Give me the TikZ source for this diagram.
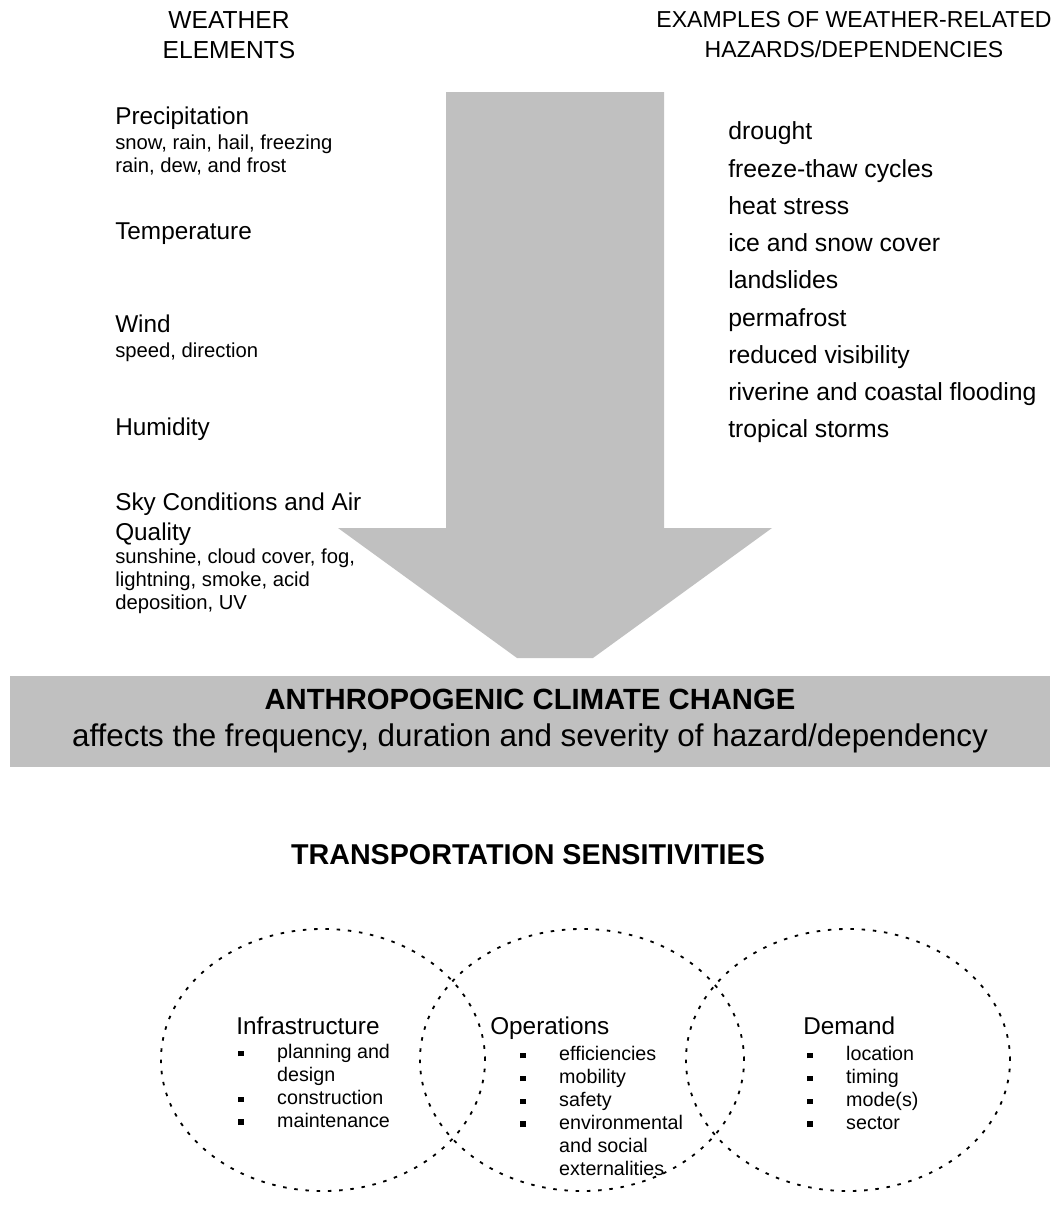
\documentclass[tikz,border=0pt]{standalone}
\usepackage{fontspec}
\setmainfont{Liberation Sans}
\usetikzlibrary{positioning}
\definecolor{WXgray}{HTML}{C0C0C0}
\definecolor{WXink}{HTML}{000000}
\newcommand{\wxbig}{\fontsize{17.3}{21}\selectfont}
\newcommand{\wxsmall}{\fontsize{14.4}{16.3}\selectfont}
\newcommand{\vbul}{\makebox[27.7pt][l]{\rule[1.6pt]{4pt}{4pt}}}
\newcommand{\vind}{\hspace*{27.7pt}}
\tikzset{
  wxhead/.style={align=center, inner sep=0pt, text=WXink,
    font=\fontsize{17.5}{21.3}\selectfont},
  wxgroup/.style={align=left, inner sep=0pt, anchor=north west, font=\wxsmall},
  hzitem/.style={inner sep=0pt, anchor=west, text height=12pt, text depth=3.5pt,
    font=\fontsize{17.6}{21}\selectfont},
  bigarrow/.style={fill=WXgray, draw=none},
  ccband/.style={rectangle, fill=WXgray, draw=none, align=center, inner sep=0pt,
    font=\fontsize{22.3}{26.3}\selectfont},
  tstitle/.style={inner sep=0pt, font=\bfseries\fontsize{20.4}{24}\selectfont},
  venn/.style={draw=WXink, line width=1.3pt, dash pattern=on 2.5pt off 5.5pt},
  vtitle/.style={inner sep=0pt, anchor=west, text height=12.5pt, text depth=3.6pt,
    font=\wxbig},
  vlist/.style={align=left, inner sep=0pt, anchor=north west,
    font=\fontsize{14}{16.3}\selectfont},
}

\begin{document}
\begin{tikzpicture}[x=0.025cm, y=-0.025cm]
  \useasboundingbox (0,0) rectangle (1062,1212);
  %% Big grey arrow
  \fill[bigarrow] (446,92) -- (664,92) -- (664,528) -- (772,528) -- (593,658)
        -- (517,658) -- (338,528) -- (446,528) -- cycle;
  %% Column headers
  \node[wxhead] (wxh) at (229,35) {WEATHER\\ELEMENTS};
  \node[wxhead, font=\fontsize{16.4}{21.3}\selectfont] (hzh) at (854,35)
        {EXAMPLES OF WEATHER-RELATED\\HAZARDS/DEPENDENCIES};
  %% Weather elements
  \node[wxgroup] (prec) at (115,107) {\wxbig Precipitation\\[1pt]
        snow, rain, hail, freezing\\ rain, dew, and frost};
  \node[wxgroup] (temp) at (115,222) {\wxbig Temperature};
  \node[wxgroup] (wind) at (115,315) {\wxbig Wind\\[1pt] speed, direction};
  \node[wxgroup] (humi) at (115,418) {\wxbig Humidity};
  \node[wxgroup] (sky) at (115,493) {\wxbig Sky Conditions and Air\\[5pt]
        \wxbig Quality\\ sunshine, cloud cover, fog,\\ lightning, smoke, acid\\
        deposition, UV};
  %% Hazards / dependencies
  \node[hzitem] (h1) at (728,134) {drought};
  \node[hzitem, below=0.93cm of h1.west, anchor=west] (h2) {freeze-thaw cycles};
  \node[hzitem, below=0.93cm of h2.west, anchor=west] (h3) {heat stress};
  \node[hzitem, below=0.93cm of h3.west, anchor=west] (h4) {ice and snow cover};
  \node[hzitem, below=0.93cm of h4.west, anchor=west] (h5) {landslides};
  \node[hzitem, below=0.93cm of h5.west, anchor=west] (h6) {permafrost};
  \node[hzitem, below=0.93cm of h6.west, anchor=west] (h7) {reduced visibility};
  \node[hzitem, below=0.93cm of h7.west, anchor=west] (h8) {riverine and coastal flooding};
  \node[hzitem, below=0.93cm of h8.west, anchor=west] (h9) {tropical storms};
  %% Climate change band
  \node[ccband, minimum width=26cm, minimum height=2.275cm] (acc) at (530,721.5)
        {{\bfseries\fontsize{20.8}{24}\selectfont ANTHROPOGENIC CLIMATE CHANGE}\\
         affects the frequency, duration and severity of hazard/dependency};
  %% Transportation sensitivities
  \node[tstitle] (ts) at (528,855) {TRANSPORTATION SENSITIVITIES};
  \draw[venn] (323,1060) ellipse [x radius=4.05cm, y radius=3.275cm];
  \draw[venn] (582,1060) ellipse [x radius=4.05cm, y radius=3.275cm];
  \draw[venn] (848,1060) ellipse [x radius=4.05cm, y radius=3.275cm];
  \node[vtitle] (infra) at (236,1028) {Infrastructure};
  \node[vlist] (infral) at (238,1044)
        {\vbul planning and\\ \vind design\\ \vbul construction\\ \vbul maintenance};
  \node[vtitle] (oper) at (490,1028) {Operations};
  \node[vlist] (operl) at (520,1046)
        {\vbul efficiencies\\ \vbul mobility\\ \vbul safety\\ \vbul environmental\\
         \vind and social\\ \vind externalities};
  \node[vtitle] (dem) at (803,1028) {Demand};
  \node[vlist] (deml) at (807,1046)
        {\vbul location\\ \vbul timing\\ \vbul mode(s)\\ \vbul sector};
\end{tikzpicture}
\end{document}
